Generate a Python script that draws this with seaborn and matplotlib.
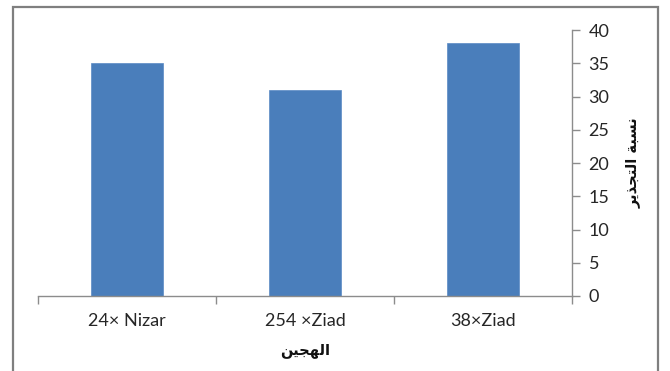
import matplotlib
matplotlib.use("Agg")
import matplotlib.pyplot as plt
import seaborn as sns
import pandas as pd
from matplotlib.patches import Rectangle

# Data
hybrids = ["24× Nizar", "254 ×Ziad", "38×Ziad"]
rooting_pct = [35, 31, 38]
y_ticks = [0, 5, 10, 15, 20, 25, 30, 35, 40]

# Arabic labels written with contextual presentation forms, in visual order
def visual(chars):
    return "".join(reversed(chars))

ylabel_ar = visual(["\uFEE7", "\uFEB4", "\uFE92", "\uFE94", " ",
                    "\uFE8D", "\uFEDF", "\uFE98", "\uFEA0", "\uFEAC", "\uFEF3", "\uFEAE"])
xlabel_ar = visual(["\uFE8D", "\uFEDF", "\uFEEC", "\uFEA0", "\uFEF4", "\uFEE6"])

df = pd.DataFrame({"hybrid": hybrids, "pct": rooting_pct})

sns.set_theme(style="white")
plt.rcParams["font.family"] = ["Lato", "DejaVu Sans"]

W, H = 670, 371
fig = plt.figure(figsize=(W / 100, H / 100), dpi=100)
ax = fig.add_axes([38 / W, 1 - 296 / H, (572 - 38) / W, (296 - 30) / H])

sns.barplot(data=df, x="hybrid", y="pct", color="#4A7EBB", saturation=1,
            width=0.4, ax=ax, edgecolor="#5a8ac4", linewidth=0.5)

ax.set_ylim(0, 40)
ax.set_xlim(-0.5, 2.5)
ax.set_yticks(y_ticks)
ax.yaxis.tick_right()
ax.yaxis.set_label_position("right")

for s in ["top", "left"]:
    ax.spines[s].set_visible(False)
for s in ["bottom", "right"]:
    ax.spines[s].set_color("#8c8c8c")
    ax.spines[s].set_linewidth(1.0)

ax.set_xticks([-0.5, 0.5, 1.5, 2.5], minor=False)
ax.set_xticklabels([])
ax.set_xticks([0, 1, 2], minor=True)
ax.set_xticklabels(hybrids, minor=True)
ax.tick_params(axis="x", which="major", length=6, width=1, color="#8c8c8c", direction="out", bottom=True)
ax.tick_params(axis="x", which="minor", length=0, labelsize=13, colors="#262626", pad=12)
ax.tick_params(axis="y", which="major", length=6, width=1, color="#8c8c8c", direction="out",
               right=True, labelsize=13, labelcolor="#262626", pad=6)

ax.set_xlabel(xlabel_ar, fontsize=10.5, fontweight="bold", family="DejaVu Sans", labelpad=10, color="#111111")
ax.set_ylabel(ylabel_ar, fontsize=10.5, fontweight="bold", family="DejaVu Sans", rotation=90, color="#111111")
ax.yaxis.set_label_coords((626 - 38) / (572 - 38), 0.5)

# Outer chart frame
fig.patches.append(Rectangle((13 / W, -0.05), (658 - 13) / W, 1.05 - 7 / H,
                             transform=fig.transFigure, fill=False,
                             edgecolor="#7f7f7f", linewidth=1.6))

fig.savefig("out.png", dpi=100)
